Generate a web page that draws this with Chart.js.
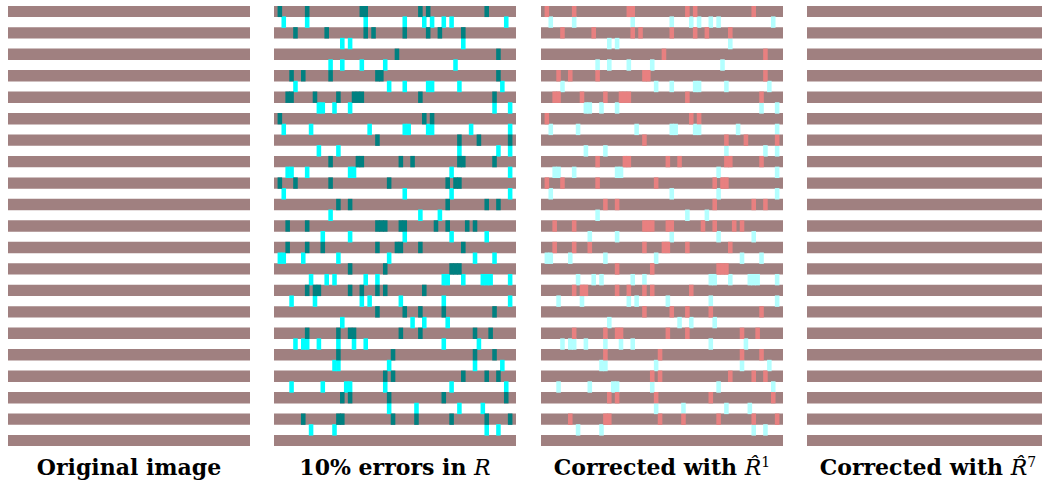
<!DOCTYPE html>
<html>
<head>
<meta charset="utf-8">
<script src="https://cdn.jsdelivr.net/npm/chart.js@4.4.1/dist/chart.umd.min.js"></script>
<style>
  html, body { margin: 0; padding: 0; background: #fff; }
  body { width: 1042px; height: 485px; position: relative; overflow: hidden; }
  canvas { position: absolute; top: 6px; }
  .caption {
    position: absolute; top: 456px; width: 242px; text-align: center;
    font-family: 'DejaVu Serif', serif; font-weight: bold; font-size: 22px;
    line-height: 22px; white-space: nowrap; color: #000;
  }
  .caption i { font-weight: normal; font-family: 'DejaVu Serif', serif; }
  .caption sup { font-size: 14px; font-weight: normal; line-height: 0; }
</style>
</head>
<body>
<canvas id="panel1" width="242" height="440" style="left:8px"></canvas>
<canvas id="panel2" width="242" height="440" style="left:274px"></canvas>
<canvas id="panel3" width="242" height="440" style="left:541px"></canvas>
<canvas id="panel4" width="242" height="440" style="left:807px"></canvas>
<div class="caption" style="left:8px">Original image</div>
<div class="caption" style="left:274px">10% errors in <i>R</i></div>
<div class="caption" style="left:541px">Corrected with <i>R&#770;</i><sup>1</sup></div>
<div class="caption" style="left:807px">Corrected with <i>R&#770;</i><sup>7</sup></div>
<script>
'use strict';

// image size (pixels of the bit matrix)
var numRows = 41;
var numCols = 62;

// flipped cells, listed per row (column indices)
var errorRows = [
  [1, 8, 22, 23, 37, 39, 54],
  [2, 8, 23, 33, 38, 40, 43, 45, 59],
  [5, 13, 23, 25, 33, 39, 42, 48],
  [17, 19, 48],
  [31, 57],
  [14, 17, 22, 28, 46],
  [4, 7, 14, 26, 27, 57],
  [5, 29, 33, 39, 40, 47, 58],
  [3, 4, 10, 16, 20, 21, 22, 37, 56],
  [11, 12, 15, 19, 56, 60],
  [1, 38, 40],
  [2, 9, 24, 33, 34, 39, 40, 50, 60],
  [26, 47, 52, 60],
  [11, 16, 47, 57, 60],
  [14, 21, 22, 32, 35, 47, 48, 56],
  [3, 4, 8, 19, 20, 45, 60],
  [1, 5, 14, 29, 44, 46, 47],
  [2, 33, 45, 60],
  [16, 19, 44, 54, 57],
  [14, 37, 42],
  [3, 8, 26, 27, 28, 32, 33, 41, 44, 49, 51],
  [12, 19, 33, 45, 54],
  [3, 8, 12, 26, 31, 32, 37, 48],
  [1, 2, 7, 16, 29, 51, 56],
  [19, 28, 45, 46, 47],
  [9, 13, 15, 23, 26, 43, 44, 48, 53, 54, 55, 60],
  [8, 10, 11, 19, 22, 26, 28, 38],
  [4, 10, 22, 24, 32, 43, 60],
  [26, 33, 37, 43, 56],
  [17, 35, 38, 44],
  [8, 16, 19, 20, 32, 37, 51, 55],
  [5, 7, 8, 11, 16, 20, 23, 43, 52],
  [16, 30, 51, 56],
  [15, 16, 29, 51, 58],
  [28, 30, 48, 54, 57],
  [4, 12, 18, 19, 28, 45, 59],
  [17, 19, 29, 43, 59],
  [29, 36, 47, 53],
  [7, 16, 17, 30, 36, 45, 54, 60],
  [9, 15, 54, 57],
  []
];

// colours
var stripeColor = '#a08080';
var errOnStripe = '#008080';
var errOnGap = '#00ffff';
var fixedOnStripe = '#e88080';
var fixedOnGap = '#b3ffff';

// build bar data
function stripeData(){
  var out = [];
  for (var r = 0; r < numRows; r += 2) {
    out.push({x: [0, numCols], y: r + 0.5});
  }
  return out;
}
function errorData(onStripe){
  var out = [];
  for (var r = 0; r < errorRows.length; r++) {
    if((r % 2 === 0) !== onStripe){
      continue;
    }
    for (var i = 0; i < errorRows[r].length; i++) {
      var c = errorRows[r][i];
      out.push({x: [c, c + 1], y: r + 0.5});
    }
  }
  return out;
}
function barSet(data, color, order, thickness){
  return {
    data: data,
    backgroundColor: color,
    borderWidth: 0,
    borderRadius: 0,
    borderSkipped: false,
    grouped: false,
    barThickness: thickness,
    order: order
  };
}

function drawPanel(id, stripeErrColor, gapErrColor){
  var canvas = document.getElementById(id);
  // one matrix row in pixels
  var rowHeight = canvas.height / numRows;
  var datasets = [];
  if(stripeErrColor){
    datasets.push(barSet(errorData(true), stripeErrColor, 0, rowHeight));
    datasets.push(barSet(errorData(false), gapErrColor, 0, rowHeight));
  }
  datasets.push(barSet(stripeData(), stripeColor, 1, rowHeight));
  new Chart(canvas.getContext('2d'), {
    type: 'bar',
    data: {datasets: datasets},
    options: {
      indexAxis: 'y',
      responsive: false,
      animation: false,
      layout: {padding: 0},
      plugins: {legend: {display: false}, tooltip: {enabled: false}},
      scales: {
        x: {type: 'linear', min: 0, max: numCols, display: false, offset: false},
        y: {type: 'linear', min: 0, max: numRows, reverse: true, display: false, offset: false}
      }
    }
  });
}

// run script
drawPanel('panel1');
drawPanel('panel2', errOnStripe, errOnGap);
drawPanel('panel3', fixedOnStripe, fixedOnGap);
drawPanel('panel4');
</script>
</body>
</html>
